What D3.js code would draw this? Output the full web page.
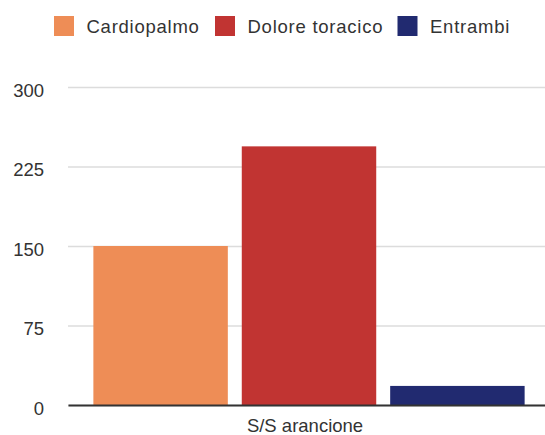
<!DOCTYPE html>
<html>
<head>
<meta charset="utf-8">
<script src="https://cdn.jsdelivr.net/npm/d3@7"></script>
<style>
  body { margin: 0; background: #fff; }
  text { font-family: "Liberation Sans", Arial, Helvetica, sans-serif; fill: #333; }
</style>
</head>
<body>
<div id="chart"></div>
<script>
// Dati
const categories = ["S/S arancione"];
const seriesNames = ["Cardiopalmo", "Dolore toracico", "Entrambi"];
const seriesValues = [150, 244, 18];
const yTicks = [0, 75, 150, 225, 300];
const colors = ["#ee8d56", "#c13432", "#212a70"];

const svgWidth = 545;
const svgHeight = 435;
const margin = { top: 87, right: -5, bottom: 30, left: 68 };
const width = svgWidth - margin.left - margin.right;
const height = svgHeight - margin.top - margin.bottom;

const svg = d3.select("#chart")
    .append("svg")
    .attr("width", svgWidth)
    .attr("height", svgHeight);

const g = svg.append("g")
    .attr("transform", `translate(${margin.left}, ${margin.top})`);

const x0 = d3.scaleBand()
    .domain(categories)
    .range([0, width]);

const x1 = d3.scaleBand()
    .domain(seriesNames)
    .range([0, x0.bandwidth()])
    .paddingInner(0.094)
    .paddingOuter(0.171);

const y = d3.scaleLinear()
    .domain([0, 300])
    .range([height, 0]);

const color = d3.scaleOrdinal()
    .domain(seriesNames)
    .range(colors);

// Griglia
g.append("g")
    .call(d3.axisLeft(y).tickValues(yTicks).tickSize(-width).tickFormat(""))
    .call(a => a.select(".domain").remove())
    .call(a => a.selectAll("line").attr("stroke", "#dcdcdc").attr("stroke-width", 1.5));

// Barre
g.selectAll(".group")
    .data(categories)
    .enter().append("g")
    .attr("transform", d => `translate(${x0(d)}, 0)`)
    .selectAll("rect")
    .data(() => seriesNames.map((key, i) => ({ key, value: seriesValues[i] })))
    .enter().append("rect")
    .attr("x", d => x1(d.key))
    .attr("y", d => y(d.value))
    .attr("width", x1.bandwidth())
    .attr("height", d => height - y(d.value))
    .attr("fill", d => color(d.key));

// Assi
const yAxis = g.append("g")
    .call(d3.axisLeft(y).tickValues(yTicks).tickSize(0).tickPadding(24));
yAxis.select(".domain").remove();
yAxis.selectAll("text")
    .attr("font-size", 18.5)
    .attr("dy", "0.5em")
    .style("font-family", "'Liberation Sans', Arial, sans-serif")
    .attr("fill", "#333");

const xAxis = g.append("g")
    .attr("transform", `translate(0, ${height})`)
    .call(d3.axisBottom(x0).tickSize(0).tickPadding(14));
xAxis.select(".domain").attr("stroke", "#333").attr("stroke-width", 2);
xAxis.selectAll("text")
    .attr("font-size", 18.5)
    .attr("x", -4)
    .style("font-family", "'Liberation Sans', Arial, sans-serif")
    .attr("fill", "#333");

// Legenda
const legendX = [54, 215, 397.5];
const legend = svg.append("g")
    .selectAll("g")
    .data(seriesNames)
    .enter().append("g")
    .attr("transform", (d, i) => `translate(${legendX[i]}, 16)`);

legend.append("rect")
    .attr("width", 20)
    .attr("height", 20)
    .attr("fill", d => color(d));

legend.append("text")
    .attr("x", 32.5)
    .attr("y", 17)
    .attr("font-size", 18.5)
    .attr("letter-spacing", 0.75)
    .text(d => d);
</script>
</body>
</html>
